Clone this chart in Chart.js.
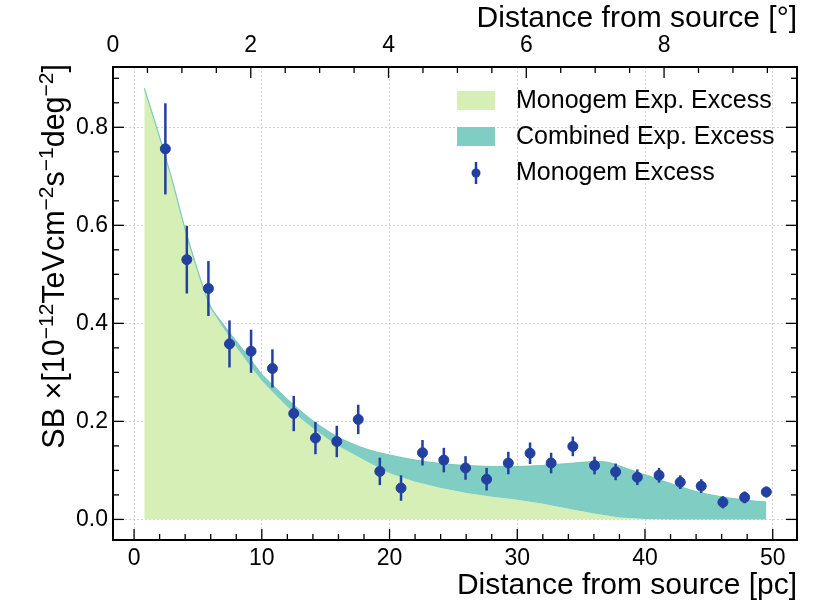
<!DOCTYPE html>
<html>
<head>
<meta charset="utf-8">
<script src="https://cdn.jsdelivr.net/npm/chart.js@4.4.1/dist/chart.umd.min.js"></script>
<style>
  html, body { margin: 0; padding: 0; background: #fff; }
  #wrap { width: 813px; height: 606px; position: relative; }
</style>
</head>
<body>
<div id="wrap"><canvas id="chart"></canvas></div>
<script>
// Measured points (Monogem excess)
const pointX = [2.45, 4.13, 5.82, 7.47, 9.16, 10.83, 12.5, 14.2, 15.87, 17.55, 19.24, 20.9, 22.58, 24.25, 25.95,
  27.6, 29.3, 31.0, 32.65, 34.35, 36.05, 37.7, 39.4, 41.1, 42.76, 44.4, 46.1, 47.8, 49.5];
const pointY = [0.756, 0.530, 0.471, 0.358, 0.343, 0.308, 0.216, 0.166, 0.159, 0.204, 0.098, 0.064, 0.136, 0.121, 0.105,
  0.082, 0.115, 0.135, 0.115, 0.149, 0.110, 0.097, 0.086, 0.090, 0.076, 0.068, 0.035, 0.045, 0.056];
const pointErr = [0.093, 0.069, 0.056, 0.048, 0.044, 0.039, 0.036, 0.033, 0.032, 0.030, 0.028, 0.026, 0.026, 0.025, 0.024,
  0.023, 0.023, 0.022, 0.021, 0.020, 0.018, 0.017, 0.016, 0.015, 0.014, 0.014, 0.0125, 0.012, 0.011];

// Expected excess curves
const modelX = [0.8, 2, 3, 4, 5, 6, 7, 8, 9, 10, 11, 12, 13, 14, 15, 16, 18, 20, 22, 24, 26, 28, 30, 32, 34, 36, 37,
  38, 40, 42, 44, 46, 48, 49.5];
const monogemExp = [0.880, 0.780, 0.690, 0.592, 0.505, 0.430, 0.390, 0.352, 0.316, 0.283, 0.256, 0.230, 0.207, 0.186,
  0.167, 0.150, 0.121, 0.094, 0.077, 0.064, 0.054, 0.046, 0.040, 0.032, 0.022, 0.012, 0.008, 0.004, 0.001, 0, 0, 0, 0, 0];
const combinedExp = [0.880, 0.780, 0.690, 0.592, 0.506, 0.434, 0.397, 0.363, 0.330, 0.296, 0.270, 0.245, 0.222, 0.201,
  0.183, 0.167, 0.145, 0.131, 0.121, 0.114, 0.110, 0.108, 0.108, 0.110, 0.114, 0.118, 0.117, 0.109, 0.091, 0.073,
  0.057, 0.046, 0.039, 0.035];

// Axes
const xTicks = [0, 10, 20, 30, 40, 50];
const yTicks = [0.0, 0.2, 0.4, 0.6, 0.8];
const degTicks = [0, 2, 4, 6, 8];
const xRange = [-1.65, 51.9];
const yRange = [-0.042, 0.923];
const degRange = [0, 9.93];

const FONT = "'Liberation Sans', Arial, sans-serif";
const BLUE = '#2240a0';
const GREEN = '#d6efb6';
const TEAL = '#80cdc4';

function minorList(lo, hi, step) {
  const out = [];
  for (let v = lo; v <= hi + 1e-9; v += step) out.push(+v.toFixed(4));
  return out;
}

// Error bars under the markers
const errorBars = {
  id: 'errorBars',
  beforeDatasetDraw(chart, args) {
    if (args.index !== 2) return;
    const { ctx, scales: { x, y } } = chart;
    ctx.save();
    ctx.strokeStyle = BLUE;
    ctx.lineWidth = 2.5;
    pointX.forEach((v, i) => {
      const px = x.getPixelForValue(v);
      ctx.beginPath();
      ctx.moveTo(px, y.getPixelForValue(pointY[i] + pointErr[i]));
      ctx.lineTo(px, y.getPixelForValue(pointY[i] - pointErr[i]));
      ctx.stroke();
    });
    ctx.restore();
  }
};

// Frame, inward ticks, y title, legend
const decorations = {
  id: 'decorations',
  afterDraw(chart) {
    const { ctx, chartArea: a, scales: { x, y, x2 } } = chart;
    ctx.save();
    ctx.strokeStyle = '#000';

    // ticks
    ctx.lineWidth = 1.3;
    const tick = (px, py, dx, dy) => { ctx.beginPath(); ctx.moveTo(px, py); ctx.lineTo(px + dx, py + dy); ctx.stroke(); };
    const MAJ = 11, MIN = 6;
    xTicks.forEach(v => tick(x.getPixelForValue(v), a.bottom, 0, -MAJ));
    minorList(0, 50, 2).filter(v => !xTicks.includes(v)).forEach(v => tick(x.getPixelForValue(v), a.bottom, 0, -MIN));
    degTicks.forEach(v => tick(x2.getPixelForValue(v), a.top, 0, MAJ));
    minorList(0, 9.5, 0.5).filter(v => !degTicks.includes(v)).forEach(v => tick(x2.getPixelForValue(v), a.top, 0, MIN));
    yTicks.forEach(v => {
      tick(a.left, y.getPixelForValue(v), MAJ, 0);
      tick(a.right, y.getPixelForValue(v), -MAJ, 0);
    });
    minorList(0, 0.9, 0.05).filter(v => !yTicks.some(t => Math.abs(t - v) < 1e-6)).forEach(v => {
      tick(a.left, y.getPixelForValue(v), MIN, 0);
      tick(a.right, y.getPixelForValue(v), -MIN, 0);
    });

    // frame
    ctx.lineWidth = 2;
    ctx.strokeRect(a.left, a.top, a.right - a.left, a.bottom - a.top);

    // y title with superscripts
    const parts = [['SB \u00d7[10', 0], ['\u221212', 1], ['TeVcm', 0], ['\u22122', 1], ['s', 0], ['\u22121', 1],
      ['deg', 0], ['\u22122', 1], [']', 0]];
    const big = 30.5, small = 21;
    let total = 0;
    parts.forEach(([t, s]) => { ctx.font = `${s ? small : big}px ${FONT}`; total += ctx.measureText(t).width; });
    ctx.translate(64, a.top - 3);
    ctx.rotate(-Math.PI / 2);
    ctx.fillStyle = '#000';
    ctx.textBaseline = 'alphabetic';
    ctx.textAlign = 'left';
    let cx = -total;
    parts.forEach(([t, s]) => {
      ctx.font = `${s ? small : big}px ${FONT}`;
      ctx.fillText(t, cx, s ? -11.5 : 0);
      cx += ctx.measureText(t).width;
    });
    ctx.setTransform(1, 0, 0, 1, 0, 0);

    // legend
    ctx.font = `25px ${FONT}`;
    ctx.textBaseline = 'middle';
    ctx.fillStyle = GREEN;
    ctx.fillRect(457, 91, 38, 19);
    ctx.fillStyle = TEAL;
    ctx.fillRect(457, 127, 38, 19);
    ctx.strokeStyle = BLUE;
    ctx.lineWidth = 2.5;
    ctx.beginPath(); ctx.moveTo(476, 162); ctx.lineTo(476, 184); ctx.stroke();
    ctx.fillStyle = BLUE;
    ctx.beginPath(); ctx.arc(476, 173, 4.5, 0, Math.PI * 2); ctx.fill();
    ctx.fillStyle = '#000';
    ctx.fillText('Monogem Exp. Excess', 516, 101);
    ctx.fillText('Combined Exp. Excess', 516, 137);
    ctx.fillText('Monogem Excess', 516, 173);
    ctx.restore();
  }
};

const ctx = document.getElementById('chart').getContext('2d');
new Chart(ctx, {
  type: 'scatter',
  data: {
    datasets: [
      {
        type: 'line',
        label: 'Monogem Exp. Excess',
        data: modelX.map((v, i) => ({ x: v, y: monogemExp[i] })),
        backgroundColor: GREEN,
        borderWidth: 0,
        pointRadius: 0,
        fill: 'origin',
        tension: 0,
        order: 2
      },
      {
        type: 'line',
        label: 'Combined Exp. Excess',
        data: modelX.map((v, i) => ({ x: v, y: combinedExp[i] })),
        backgroundColor: TEAL,
        borderColor: '#7ccab8',
        borderWidth: 1.2,
        pointRadius: 0,
        fill: '-1',
        tension: 0.3,
        order: 1
      },
      {
        label: 'Monogem Excess',
        data: pointX.map((v, i) => ({ x: v, y: pointY[i] })),
        backgroundColor: BLUE,
        borderColor: BLUE,
        pointRadius: 5,
        order: 0
      }
    ]
  },
  options: {
    responsive: true,
    maintainAspectRatio: false,
    animation: false,
    layout: { padding: { left: 0, right: 16, top: 0, bottom: 0 } },
    plugins: { legend: { display: false }, tooltip: { enabled: false } },
    scales: {
      x: {
        type: 'linear', position: 'bottom', min: xRange[0], max: xRange[1],
        afterBuildTicks: s => { s.ticks = xTicks.map(v => ({ value: v })); },
        afterFit: s => { s.height = 66; },
        grid: { color: '#d0d0d0', lineWidth: 1, drawTicks: false },
        border: { display: false, dash: [2, 2] },
        ticks: { color: '#000', padding: 5, maxRotation: 0, font: { family: FONT, size: 23 } },
        title: { display: true, text: 'Distance from source [pc]', align: 'end', color: '#000',
          padding: { top: 0, bottom: 2 }, font: { family: FONT, size: 30 } }
      },
      x2: {
        type: 'linear', position: 'top', min: degRange[0], max: degRange[1],
        afterBuildTicks: s => { s.ticks = degTicks.map(v => ({ value: v })); },
        afterFit: s => { s.height = 67; },
        grid: { display: false, drawTicks: false },
        border: { display: false },
        ticks: { color: '#000', padding: 8, maxRotation: 0, font: { family: FONT, size: 23 } },
        title: { display: true, text: 'Distance from source [\u00b0]', align: 'end', color: '#000',
          padding: { top: 1, bottom: 0 }, font: { family: FONT, size: 30 } }
      },
      y: {
        type: 'linear', min: yRange[0], max: yRange[1],
        afterBuildTicks: s => { s.ticks = yTicks.map(v => ({ value: v })); },
        afterFit: s => { s.width = 113; },
        grid: { color: '#d0d0d0', lineWidth: 1, drawTicks: false },
        border: { display: false, dash: [2, 2] },
        ticks: { color: '#000', padding: 5, font: { family: FONT, size: 23 }, callback: v => v.toFixed(1) }
      }
    }
  },
  plugins: [errorBars, decorations]
});
</script>
</body>
</html>
